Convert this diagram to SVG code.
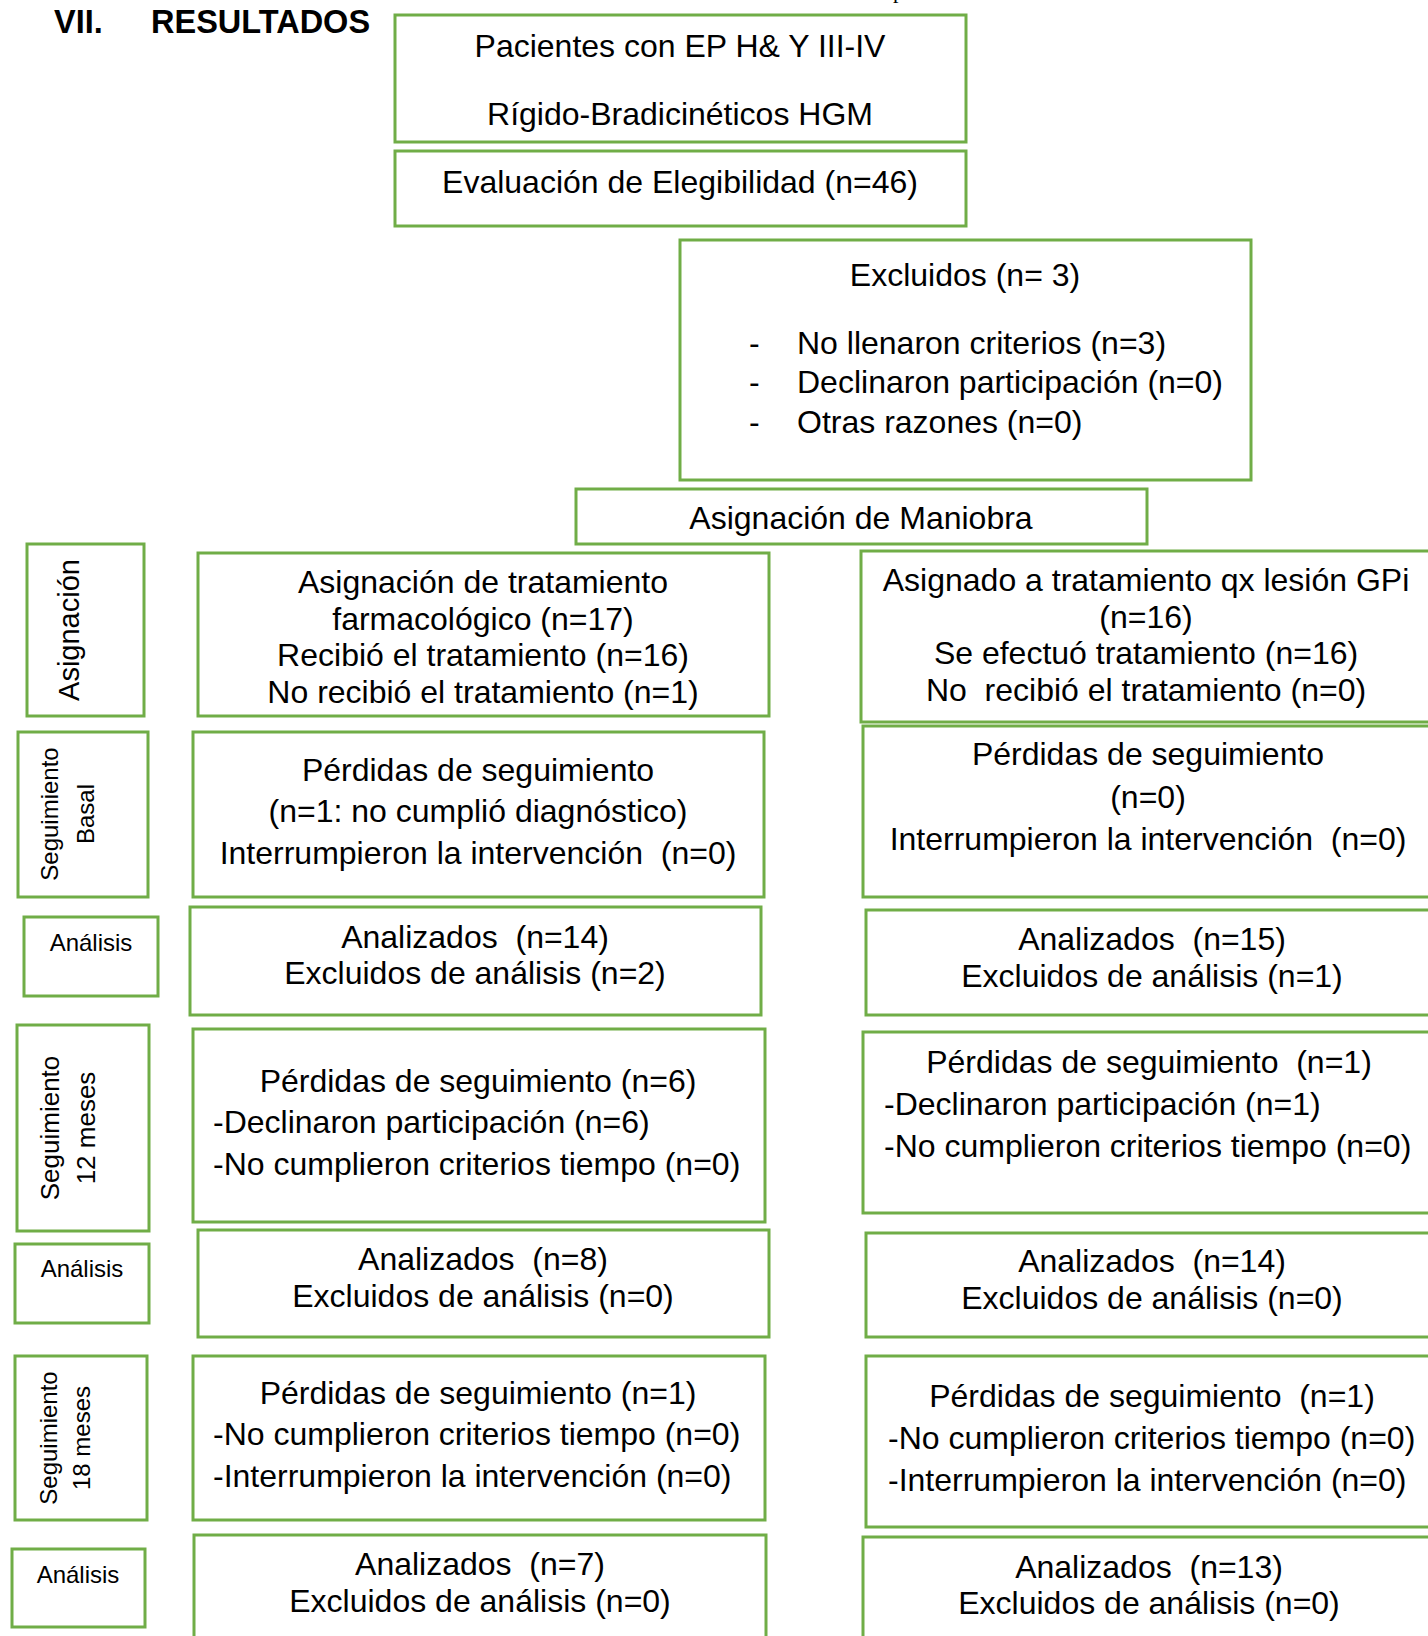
<svg xmlns="http://www.w3.org/2000/svg" width="1428" height="1636" viewBox="0 0 1428 1636">
<style>
.box{fill:#fff;stroke:#70AD47;stroke-width:3}
text{font-family:"Liberation Sans",Arial,sans-serif;fill:#000;white-space:pre}
.t{font-size:32px}
.c{text-anchor:middle}
.lab{font-size:24px;text-anchor:middle}
.vl{font-size:24px;text-anchor:middle}
.title{font-size:32.5px;font-weight:bold}
</style>
<rect width="1428" height="1636" fill="#fff"/>
<g id="title">
<text class="title" x="54" y="33">VII.</text>
<text class="title" x="151" y="33">RESULTADOS</text>
<text x="893" y="-2" style="font-family:'Liberation Serif',serif;font-size:22px">p</text>
</g>
<g id="connectors"></g>
<g id="pacientes">
<rect class="box" x="395" y="15" width="571" height="127"/>
<text class="t c" x="680" y="57">Pacientes con EP H&amp; Y III-IV</text>
<text class="t c" x="680" y="125">Rígido-Bradicinéticos HGM</text>
</g>
<g id="evaluacion">
<rect class="box" x="395" y="151" width="571" height="75"/>
<text class="t c" x="680" y="193">Evaluación de Elegibilidad (n=46)</text>
</g>
<g id="excluidos">
<rect class="box" x="680" y="240" width="571" height="240"/>
<text class="t c" x="965" y="286">Excluidos (n= 3)</text>
<text class="t" x="749" y="354">-</text>
<text class="t" x="797" y="354">No llenaron criterios (n=3)</text>
<text class="t" x="749" y="393">-</text>
<text class="t" x="797" y="393">Declinaron participación (n=0)</text>
<text class="t" x="749" y="433">-</text>
<text class="t" x="797" y="433">Otras razones (n=0)</text>
</g>
<g id="maniobra">
<rect class="box" x="576" y="489" width="571" height="55"/>
<text class="t c" x="861" y="529">Asignación de Maniobra</text>
</g>
<g id="lab-asignacion">
<rect class="box" x="27" y="544" width="117" height="172"/>
<text class="vl" style="font-size:29px" transform="translate(79,630) rotate(-90)">Asignación</text>
</g>
<g id="left-asignacion">
<rect class="box" x="198" y="553" width="571" height="163"/>
<text class="t c" x="483" y="593">Asignación de tratamiento</text>
<text class="t c" x="483" y="630">farmacológico (n=17)</text>
<text class="t c" x="483" y="666">Recibió el tratamiento (n=16)</text>
<text class="t c" x="483" y="703">No recibió el tratamiento (n=1)</text>
</g>
<g id="right-asignacion">
<rect class="box" x="861" y="551" width="572" height="171"/>
<text class="t c" x="1146" y="591">Asignado a tratamiento qx lesión GPi</text>
<text class="t c" x="1146" y="628">(n=16)</text>
<text class="t c" x="1146" y="664">Se efectuó tratamiento (n=16)</text>
<text class="t c" x="1146" y="701">No  recibió el tratamiento (n=0)</text>
</g>
<g id="lab-basal">
<rect class="box" x="18" y="732" width="130" height="165"/>
<text class="vl" transform="translate(58,814) rotate(-90)">Seguimiento</text>
<text class="vl" transform="translate(94,814) rotate(-90)">Basal</text>
</g>
<g id="left-basal">
<rect class="box" x="193" y="732" width="571" height="165"/>
<text class="t c" x="478" y="781">Pérdidas de seguimiento</text>
<text class="t c" x="478" y="822">(n=1: no cumplió diagnóstico)</text>
<text class="t c" x="478" y="864">Interrumpieron la intervención  (n=0)</text>
</g>
<g id="right-basal">
<rect class="box" x="863" y="726" width="572" height="171"/>
<text class="t c" x="1148" y="765">Pérdidas de seguimiento</text>
<text class="t c" x="1148" y="808">(n=0)</text>
<text class="t c" x="1148" y="850">Interrumpieron la intervención  (n=0)</text>
</g>
<g id="lab-analisis-1">
<rect class="box" x="24" y="917" width="134" height="79"/>
<text class="lab" x="91" y="951">Análisis</text>
</g>
<g id="left-analisis-1">
<rect class="box" x="190" y="907" width="571" height="108"/>
<text class="t c" x="475" y="948">Analizados  (n=14)</text>
<text class="t c" x="475" y="984">Excluidos de análisis (n=2)</text>
</g>
<g id="right-analisis-1">
<rect class="box" x="866" y="910" width="572" height="105"/>
<text class="t c" x="1152" y="950">Analizados  (n=15)</text>
<text class="t c" x="1152" y="987">Excluidos de análisis (n=1)</text>
</g>
<g id="lab-12">
<rect class="box" x="17" y="1025" width="132" height="206"/>
<text class="vl" style="font-size:26px" transform="translate(59,1128) rotate(-90)">Seguimiento</text>
<text class="vl" style="font-size:26px" transform="translate(95,1128) rotate(-90)">12 meses</text>
</g>
<g id="left-12">
<rect class="box" x="193" y="1029" width="572" height="193"/>
<text class="t c" x="478" y="1092">Pérdidas de seguimiento (n=6)</text>
<text class="t" x="213" y="1133">-Declinaron participación (n=6)</text>
<text class="t" x="213" y="1175">-No cumplieron criterios tiempo (n=0)</text>
</g>
<g id="right-12">
<rect class="box" x="863" y="1032" width="572" height="181"/>
<text class="t c" x="1149" y="1073">Pérdidas de seguimiento  (n=1)</text>
<text class="t" x="884" y="1115">-Declinaron participación (n=1)</text>
<text class="t" x="884" y="1157">-No cumplieron criterios tiempo (n=0)</text>
</g>
<g id="lab-analisis-2">
<rect class="box" x="15" y="1244" width="134" height="79"/>
<text class="lab" x="82" y="1277">Análisis</text>
</g>
<g id="left-analisis-2">
<rect class="box" x="198" y="1230" width="571" height="107"/>
<text class="t c" x="483" y="1270">Analizados  (n=8)</text>
<text class="t c" x="483" y="1307">Excluidos de análisis (n=0)</text>
</g>
<g id="right-analisis-2">
<rect class="box" x="866" y="1233" width="572" height="104"/>
<text class="t c" x="1152" y="1272">Analizados  (n=14)</text>
<text class="t c" x="1152" y="1309">Excluidos de análisis (n=0)</text>
</g>
<g id="lab-18">
<rect class="box" x="15" y="1356" width="132" height="164"/>
<text class="vl" transform="translate(57,1438) rotate(-90)">Seguimiento</text>
<text class="vl" transform="translate(90,1438) rotate(-90)">18 meses</text>
</g>
<g id="left-18">
<rect class="box" x="193" y="1356" width="572" height="164"/>
<text class="t c" x="478" y="1404">Pérdidas de seguimiento (n=1)</text>
<text class="t" x="213" y="1445">-No cumplieron criterios tiempo (n=0)</text>
<text class="t" x="213" y="1487">-Interrumpieron la intervención (n=0)</text>
</g>
<g id="right-18">
<rect class="box" x="866" y="1356" width="572" height="171"/>
<text class="t c" x="1152" y="1407">Pérdidas de seguimiento  (n=1)</text>
<text class="t" x="888" y="1449">-No cumplieron criterios tiempo (n=0)</text>
<text class="t" x="888" y="1491">-Interrumpieron la intervención (n=0)</text>
</g>
<g id="lab-analisis-3">
<rect class="box" x="12" y="1549" width="133" height="78"/>
<text class="lab" x="78" y="1583">Análisis</text>
</g>
<g id="left-analisis-3">
<rect class="box" x="194" y="1535" width="572" height="130"/>
<text class="t c" x="480" y="1575">Analizados  (n=7)</text>
<text class="t c" x="480" y="1612">Excluidos de análisis (n=0)</text>
</g>
<g id="right-analisis-3">
<rect class="box" x="863" y="1537" width="572" height="130"/>
<text class="t c" x="1149" y="1578">Analizados  (n=13)</text>
<text class="t c" x="1149" y="1614">Excluidos de análisis (n=0)</text>
</g>
</svg>
